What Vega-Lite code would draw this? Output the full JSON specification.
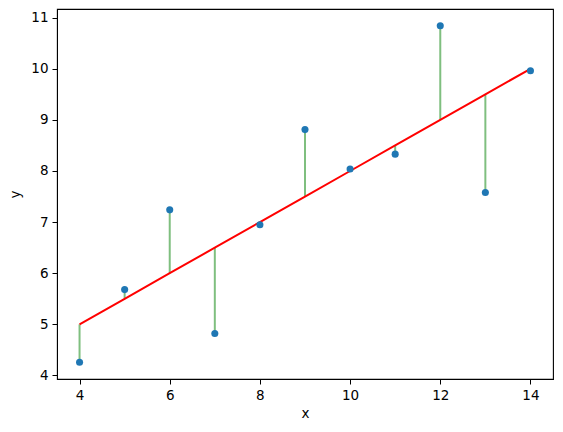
{
  "$schema": "https://vega.github.io/schema/vega-lite/v6.json",
  "width": 496,
  "height": 370,
  "autosize": {"type": "none"},
  "padding": {"left": 57, "top": 9, "right": 10, "bottom": 53},
  "data": {
    "values": [
      {"x": 10, "y": 8.04, "fit": 8.0},
      {"x": 8, "y": 6.95, "fit": 7.0},
      {"x": 13, "y": 7.58, "fit": 9.5},
      {"x": 9, "y": 8.81, "fit": 7.5},
      {"x": 11, "y": 8.33, "fit": 8.5},
      {"x": 14, "y": 9.96, "fit": 10.0},
      {"x": 6, "y": 7.24, "fit": 6.0},
      {"x": 4, "y": 4.26, "fit": 5.0},
      {"x": 12, "y": 10.84, "fit": 9.0},
      {"x": 7, "y": 4.82, "fit": 6.5},
      {"x": 5, "y": 5.68, "fit": 5.5}
    ]
  },
  "encoding": {
    "x": {
      "field": "x",
      "type": "quantitative",
      "scale": {"domain": [3.5, 14.5], "nice": false, "zero": false},
      "axis": {"values": [4, 6, 8, 10, 12, 14], "title": "x"}
    }
  },
  "layer": [
    {
      "mark": {"type": "rule", "color": "green", "opacity": 0.5, "strokeWidth": 2},
      "encoding": {
        "y": {"field": "y", "type": "quantitative"},
        "y2": {"field": "fit"}
      }
    },
    {
      "mark": {"type": "line", "color": "red", "strokeWidth": 2},
      "encoding": {
        "y": {"field": "fit", "type": "quantitative"}
      }
    },
    {
      "mark": {"type": "point", "filled": true, "shape": "circle", "color": "#1f77b4", "opacity": 1, "size": 50},
      "encoding": {
        "y": {
          "field": "y",
          "type": "quantitative",
          "scale": {"domain": [3.931, 11.169], "nice": false, "zero": false},
          "axis": {"values": [4, 5, 6, 7, 8, 9, 10, 11], "title": "y"}
        }
      }
    }
  ],
  "config": {
    "view": {"stroke": "black", "strokeWidth": 1.1},
    "axis": {
      "grid": false,
      "labelFont": "DejaVu Sans",
      "titleFont": "DejaVu Sans",
      "labelFontSize": 13.5,
      "titleFontSize": 13.5,
      "titleFontWeight": "normal",
      "labelColor": "black",
      "titleColor": "black",
      "tickColor": "black",
      "domainColor": "black",
      "tickSize": 5,
      "labelPadding": 4,
      "labelFlush": false,
      "labelOverlap": false
    },
    "axisX": {"titlePadding": 5},
    "axisY": {"titlePadding": 8}
  }
}
